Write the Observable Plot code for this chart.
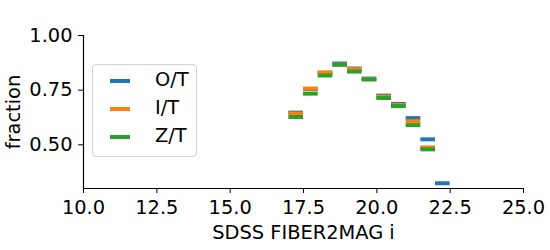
<!DOCTYPE html>
<html>
<head>
<meta charset="utf-8">
<script src="https://cdn.jsdelivr.net/npm/d3@7"></script>
<script src="https://cdn.jsdelivr.net/npm/@observablehq/plot@0.6"></script>
<style>
  html, body { margin: 0; padding: 0; background: #fff; overflow: hidden; }
  #wrap { position: relative; width: 550px; height: 250px; overflow: hidden; font-family: "DejaVu Sans", sans-serif; }
  #wrap svg { display: block; }
  #legend { position: absolute; left: 92px; top: 64px; width: 103px; height: 91px;
    border: 1px solid #d0d0d0; border-radius: 4px; background: rgba(255,255,255,0.8); }
  .item { position: absolute; left: 0; height: 20px; width: 100%; }
  .swatch { position: absolute; left: 17px; width: 20px; height: 4px; }
  .lab { position: absolute; left: 62px; font-size: 19.4px; line-height: 18px; color: #000; white-space: nowrap; }
</style>
</head>
<body>
<div id="wrap"><div id="legend"></div></div>
<script>
// bin lower edges (SDSS FIBER2MAG i), bin width 0.5
const binLo = [17.0, 17.5, 18.0, 18.5, 19.0, 19.5, 20.0, 20.5, 21.0, 21.5, 22.0];
const binWidth = 0.5;
const seriesNames = ["O/T", "I/T", "Z/T"];
const seriesColors = ["#1f77b4", "#ff7f0e", "#2ca02c"];
const fracOT = [0.647, 0.755, 0.829, 0.872, 0.849, 0.803, 0.725, 0.687, 0.622, 0.525, 0.324];
const fracIT = [0.643, 0.757, 0.831, 0.867, 0.846, 0.800, 0.720, 0.682, 0.608, 0.488, null];
const fracZT = [0.627, 0.734, 0.817, 0.866, 0.835, 0.799, 0.714, 0.677, 0.590, 0.479, null];
const xTicks = [10.0, 12.5, 15.0, 17.5, 20.0, 22.5, 25.0];
const yTicks = [0.50, 0.75, 1.00];

const allSeries = [fracOT, fracIT, fracZT];
const rows = [];
allSeries.forEach((vals, si) => {
  vals.forEach((v, i) => {
    if (v != null) rows.push({series: seriesNames[si], x1: binLo[i], x2: binLo[i] + binWidth, y: v});
  });
});

const chart = Plot.plot({
  width: 550,
  height: 250,
  marginLeft: 83,
  marginRight: 27,
  marginTop: 35,
  marginBottom: 62,
  style: {fontFamily: "DejaVu Sans, sans-serif", fontSize: "19.4px", color: "#000", background: "#fff"},
  x: {domain: [10, 25]},
  y: {domain: [0.3, 1.0]},
  color: {domain: seriesNames, range: seriesColors},
  marks: [
    Plot.ruleY(rows, {y: "y", x1: "x1", x2: "x2", stroke: "series", strokeWidth: 4}),
    Plot.axisX({ticks: xTicks, tickFormat: d3.format(".1f"), tickSize: 5, tickPadding: 6.5, fontSize: 19.4,
      label: "SDSS FIBER2MAG i", labelAnchor: "center", labelArrow: "none", labelOffset: 50.5}),
    Plot.axisY({ticks: yTicks, tickFormat: d3.format(".2f"), tickSize: 5, tickPadding: 6, fontSize: 19.4,
      label: "fraction", labelAnchor: "center", labelArrow: "none", labelOffset: 77}),
    Plot.ruleX([10], {y1: 0.3, y2: 1.0, strokeWidth: 1.2}),
    Plot.ruleY([0.3], {x1: 10, x2: 25, strokeWidth: 1.2})
  ]
});
document.getElementById("wrap").prepend(chart);

const legend = document.getElementById("legend");
seriesNames.forEach((name, i) => {
  const item = document.createElement("div");
  item.className = "item";
  item.style.top = (6 + i * 28) + "px";
  const sw = document.createElement("div");
  sw.className = "swatch";
  sw.style.background = seriesColors[i];
  sw.style.top = "8px";
  const lab = document.createElement("div");
  lab.className = "lab";
  lab.textContent = name;
  lab.style.top = "0px";
  item.appendChild(sw);
  item.appendChild(lab);
  legend.appendChild(item);
});
</script>
</body>
</html>
